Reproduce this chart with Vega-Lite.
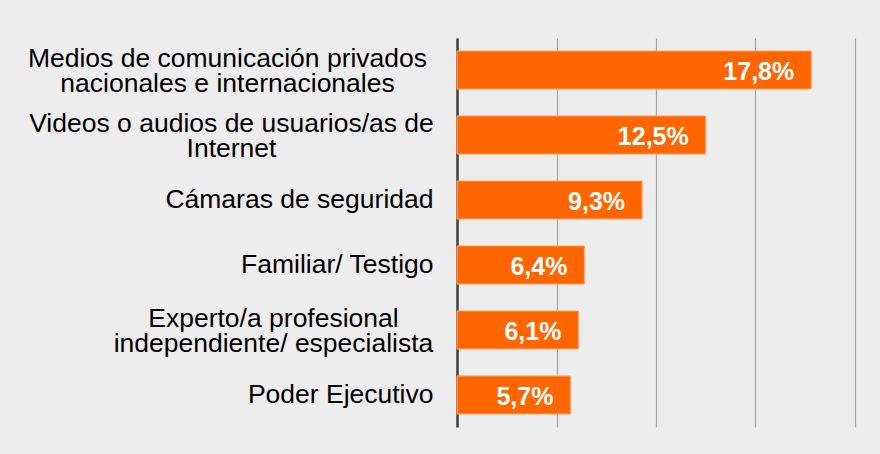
{
  "$schema": "https://vega.github.io/schema/vega-lite/v6.json",
  "autosize": {"type": "none"},
  "width": 398,
  "height": 389,
  "padding": {"left": 457, "top": 38, "right": 25, "bottom": 27},
  "background": "#EDEDED",
  "config": {
    "view": {"stroke": null},
    "locale": {
      "number": {"decimal": ",", "thousands": ".", "grouping": [3], "currency": ["", " €"]}
    },
    "font": "Liberation Sans"
  },
  "data": {
    "values": [
      {"fuente": "Medios de comunicación privados nacionales e internacionales", "valor": 0.178},
      {"fuente": "Videos o audios de usuarios/as de Internet", "valor": 0.125},
      {"fuente": "Cámaras de seguridad", "valor": 0.093},
      {"fuente": "Familiar/ Testigo", "valor": 0.064},
      {"fuente": "Experto/a profesional independiente/ especialista", "valor": 0.061},
      {"fuente": "Poder Ejecutivo", "valor": 0.057}
    ]
  },
  "encoding": {
    "y": {
      "field": "fuente",
      "type": "nominal",
      "sort": null,
      "scale": {"paddingInner": 0.415, "paddingOuter": 0.2},
      "axis": {
        "title": null,
        "ticks": false,
        "domainColor": "#404040",
        "domainWidth": 2.5,
        "labelFont": "Liberation Sans",
        "labelFontSize": 26.5,
        "labelColor": "#000000",
        "labelLimit": 600,
        "labelLineHeight": 25,
        "labelBaseline": "middle",
        "labelAlign": {
          "condition": {
            "test": "indexof(datum.value, ' e internacionales') >= 0 || indexof(datum.value, 'de Internet') >= 0 || indexof(datum.value, 'especialista') >= 0",
            "value": "center"
          },
          "value": "right"
        },
        "labelPadding": {
          "condition": [
            {"test": "indexof(datum.value, ' e internacionales') >= 0", "value": 230},
            {"test": "indexof(datum.value, 'de Internet') >= 0", "value": 226},
            {"test": "indexof(datum.value, 'especialista') >= 0", "value": 184}
          ],
          "value": 24
        },
        "labelOffset": {
          "condition": {
            "test": "indexof(datum.value, ' e internacionales') >= 0 || indexof(datum.value, 'de Internet') >= 0 || indexof(datum.value, 'especialista') >= 0",
            "value": -11
          },
          "value": 0
        },
        "labelExpr": "datum.value == 'Medios de comunicación privados nacionales e internacionales' ? ['Medios de comunicación privados', 'nacionales e internacionales'] : datum.value == 'Videos o audios de usuarios/as de Internet' ? ['Videos o audios de usuarios/as de', 'Internet'] : datum.value == 'Experto/a profesional independiente/ especialista' ? ['Experto/a profesional', 'independiente/ especialista'] : datum.value"
      }
    },
    "x": {
      "field": "valor",
      "type": "quantitative",
      "scale": {"domain": [0, 0.2], "nice": false},
      "axis": {
        "title": null,
        "labels": false,
        "ticks": false,
        "domain": false,
        "values": [0, 0.05, 0.1, 0.15, 0.2],
        "grid": true,
        "gridColor": "#A6A6A6",
        "gridWidth": 1.2
      }
    }
  },
  "layer": [
    {
      "mark": {"type": "bar", "color": "#FF6600", "stroke": "#FFA366", "strokeWidth": 1}
    },
    {
      "mark": {
        "type": "text",
        "align": "right",
        "baseline": "middle",
        "dx": -17,
        "dy": 2,
        "font": "Liberation Sans",
        "fontSize": 25,
        "fontWeight": "bold",
        "color": "#FFFFFF"
      },
      "encoding": {
        "text": {"field": "valor", "type": "quantitative", "format": ".1%"}
      }
    }
  ]
}
